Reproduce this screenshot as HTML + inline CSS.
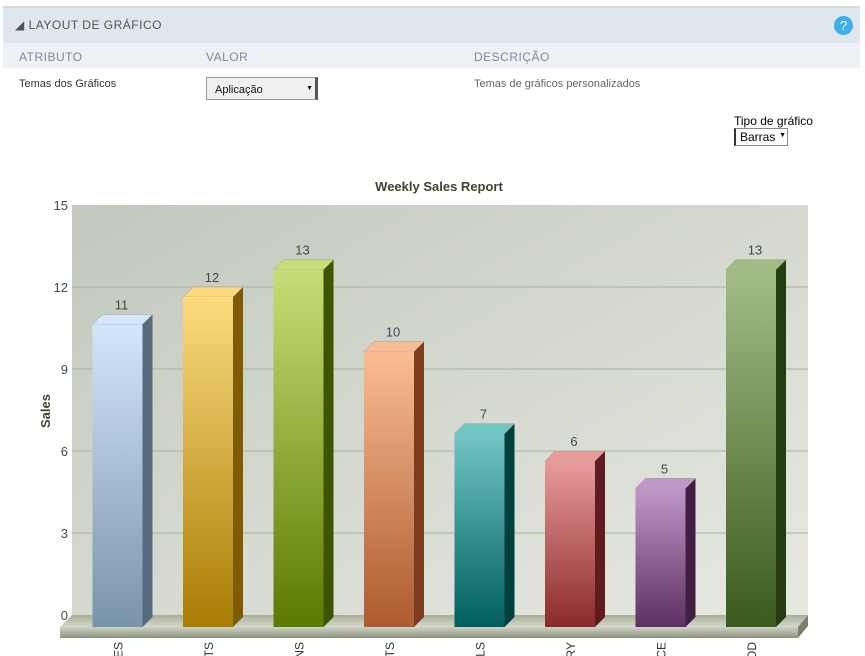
<!DOCTYPE html>
<html><head><meta charset="utf-8">
<style>
body{margin:0;width:865px;height:656px;overflow:hidden;background:#fff;font-family:"Liberation Sans",sans-serif;position:relative}
.hdr{position:absolute;left:3px;top:6px;width:857px;height:35px;background:#e1e7ee;border-top:2px solid #d4dbe3;border-bottom:2px solid #d4dbe3}
.hdr span{position:absolute;left:12px;top:10px;font-size:12px;color:#4a5560;letter-spacing:.5px}
.help{position:absolute;right:7px;top:8px;width:19px;height:19px;border-radius:50%;background:#3bb0ec;color:#fff;font-size:13px;text-align:center;line-height:19px}
.cols{position:absolute;left:3px;top:43px;width:857px;height:25px;background:#eef1f5;font-size:12px;color:#7d8a96;letter-spacing:.5px}
.cols span{position:absolute;top:7px}
.t{position:absolute;font-size:11px;color:#333}
.sel{position:absolute;left:206px;top:77px;width:112px;height:23px;background:#f0f0f0;border:1px solid #999;border-right:3px solid #555;font-size:11px;box-sizing:border-box;padding:6px 0 0 8px;color:#111}
</style></head><body>
<div class="hdr"><span>◢ LAYOUT DE GRÁFICO</span><div class="help">?</div></div>
<div class="cols"><span style="left:16px">ATRIBUTO</span><span style="left:203px">VALOR</span><span style="left:471px">DESCRIÇÃO</span></div>
<div class="t" style="left:19px;top:78px">Temas dos Gráficos</div>
<div class="sel">Aplicação<span style="position:absolute;right:2px;top:7px;font-size:7px">▼</span></div>
<div class="t" style="left:474px;top:78px;color:#666">Temas de gráficos personalizados</div>
<div class="t" style="left:734px;top:114px;font-size:12px;color:#000">Tipo de gráfico</div>
<div style="position:absolute;left:734px;top:128px;width:54px;height:18px;border:1px solid #888;border-left:2px solid #333;font-size:12px;box-sizing:border-box;padding:1px 4px">Barras<span style="position:absolute;right:1px;top:3px;font-size:7px">▼</span></div>
<svg id="ch" width="865" height="656" style="position:absolute;left:0;top:0">
<defs>
<linearGradient id="wall" x1="0" y1="0" x2="1" y2="1"><stop offset="0" stop-color="#c3c8bd"/><stop offset="1" stop-color="#e6e9e2"/></linearGradient>
<linearGradient id="floor" x1="0" y1="0" x2="0" y2="1"><stop offset="0" stop-color="#a9ae9b"/><stop offset="1" stop-color="#d4d8cb"/></linearGradient>
<linearGradient id="base" x1="0" y1="0" x2="0" y2="1"><stop offset="0" stop-color="#cfd3c6"/><stop offset="1" stop-color="#8d927e"/></linearGradient>
</defs>
<text x="439" y="191" text-anchor="middle" font-size="13" font-weight="bold" fill="#3b4530">Weekly Sales Report</text>
<text transform="translate(50,411) rotate(-90)" text-anchor="middle" font-size="13" font-weight="bold" fill="#3b4530">Sales</text>
</svg>
<script>
const categories=["CLOTHES","SPORTS","KITCHENS","GIFTS","TOOLS","JEWELRY","COMMERCE","FOOD"];
const values=[11,12,13,10,7,6,5,13];
const yTicks=[0,3,6,9,12,15];
const frontCols=["#d3e6fb","#fbdb7e","#c5df78","#fbbc94","#72c5c5","#e99b9b","#c196c8","#a3bc86"];
const botCols=["#7993ab","#a97c05","#5a7a00","#ad5b2f","#005e5e","#8b2a2a","#5e2f62","#3a5a1e"];
const sideCols=["#55697f","#7d5c05","#3e5500","#7a3d1d","#003f3f","#5e1c1c","#3f1f42","#263d12"];
const svg=document.getElementById('ch');const NS='http://www.w3.org/2000/svg';
const yMax=15,yTop=205,yZero=615,D=10,wallL=72,wallR=808;
const y=v=>yZero-(v/yMax)*(yZero-yTop);
const xC=i=>117.5+i*90.5;
function mk(t,a,p){const e=document.createElementNS(NS,t);for(const k in a)e.setAttribute(k,a[k]);(p||svg).appendChild(e);return e;}
const defs=svg.querySelector('defs');
let w=mk('rect',{x:wallL,y:yTop,width:wallR-wallL,height:yZero-yTop,fill:'url(#wall)'});


yTicks.forEach(v=>{
 if(v>0&&v<yMax){let g=mk('line',{x1:wallL,x2:wallR,y1:y(v),y2:y(v),stroke:'#a9b596','stroke-width':1});
 
 }
 let t=mk('text',{x:68,y:y(v)+5,'text-anchor':'end','font-size':13,fill:'#3d4a55'});t.textContent=v;
 
 
});
let f=mk('polygon',{points:`${wallL},${yZero} ${wallR},${yZero} ${wallR-10},${yZero+12} ${wallL-12},${yZero+12}`,fill:'url(#floor)'});


let b=mk('rect',{x:60,y:627,width:738,height:11,fill:'url(#base)'});


mk('polygon',{points:`798,627 808,615 808,626 798,638`,fill:'#7b806d'});
values.forEach((v,i)=>{
 const g=document.createElementNS(NS,'linearGradient');g.id='g'+i;g.setAttribute('x1',0);g.setAttribute('y1',0);g.setAttribute('x2',0);g.setAttribute('y2',1);
 g.innerHTML=`<stop offset="0" stop-color="${frontCols[i]}"/><stop offset="1" stop-color="${botCols[i]}"/>`;defs.appendChild(g);
 const x0=xC(i)-25,x1=xC(i)+25,top=y(v)+D,bot=627;
 const grp=mk('g',{});
 
 
 mk('polygon',{points:`${x1},${top} ${x1+D},${top-D} ${x1+D},${bot-D} ${x1},${bot}`,fill:sideCols[i]},grp);
 mk('polygon',{points:`${x0},${top} ${x0+D},${top-D} ${x1+D},${top-D} ${x1},${top}`,fill:frontCols[i],stroke:'#9aa090','stroke-width':0.5},grp);
 mk('rect',{x:x0,y:top,width:50,height:bot-top,fill:`url(#g${i})`},grp);
 const t=mk('text',{x:xC(i)+4,y:y(v)-5,'text-anchor':'middle','font-size':13,fill:'#3d4a55'});t.textContent=v;
 
 
 const c=mk('text',{transform:`translate(${xC(i)+5},642) rotate(-90)`,'text-anchor':'end','font-size':12,fill:'#333'});c.textContent=categories[i];
 
 
});
</script>
</body></html>
